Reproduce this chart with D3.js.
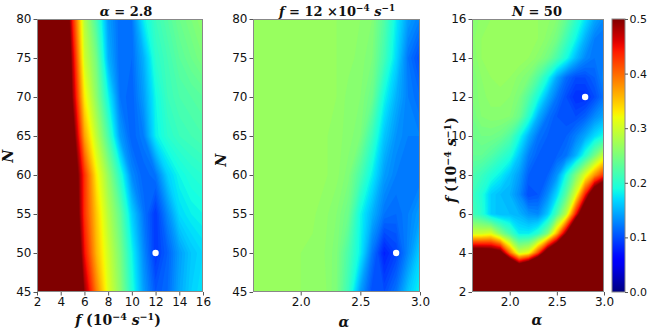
<!DOCTYPE html>
<html><head><meta charset="utf-8">
<script src="https://cdn.jsdelivr.net/npm/d3@7"></script>
<style>body{margin:0;background:#fff}svg{display:block}</style>
</head><body>
<svg id="chart" width="648" height="332"></svg>
<script>
// ---------------- data ----------------
const fSamples = [2,3,4,5,6,7,8,9,10,11,12,13,14,15,16];
const alphaSamples = [1.6,1.7,1.8,1.9,2.0,2.1,2.2,2.3,2.4,2.5,2.6,2.7,2.8,2.9,3.0];
const nSamples = [45,50,55,60,65,70,75,80];

// Panel 1: alpha = 2.8 ; rows = N (45..80), cols = f (2..16)
const errAlpha28 = [
  [.8,.8,.8,.7,.49,.39,.31,.26,.195,.14,.105,.115,.145,.165,.175],
  [.8,.8,.8,.62,.45,.36,.30,.25,.185,.13,.09,.11,.14,.16,.17],
  [.8,.8,.8,.58,.43,.35,.285,.235,.165,.12,.09,.13,.17,.18,.185],
  [.8,.8,.78,.56,.43,.33,.265,.2,.13,.11,.12,.165,.185,.195,.2],
  [.8,.8,.75,.53,.37,.29,.22,.14,.11,.125,.18,.2,.21,.215,.22],
  [.8,.8,.7,.49,.33,.26,.185,.12,.11,.14,.185,.21,.22,.225,.23],
  [.8,.8,.68,.47,.30,.245,.15,.115,.115,.15,.2,.215,.23,.24,.25],
  [.8,.8,.66,.44,.285,.22,.14,.115,.12,.18,.21,.225,.24,.25,.26]
];
// Panel 2: f = 12 ; rows = N (45..80), cols = alpha (1.6..3.0)
const errF12 = [
  [.265,.265,.265,.265,.265,.264,.262,.25,.21,.14,.1,.1,.12,.16,.185],
  [.265,.265,.265,.265,.265,.264,.26,.252,.22,.18,.12,.078,.095,.13,.165],
  [.265,.266,.268,.268,.268,.266,.262,.255,.24,.185,.15,.12,.115,.125,.14],
  [.265,.268,.27,.27,.27,.27,.266,.262,.252,.22,.18,.14,.125,.12,.12],
  [.266,.268,.268,.268,.268,.268,.266,.262,.258,.25,.21,.16,.135,.125,.125],
  [.265,.266,.266,.266,.266,.266,.266,.265,.258,.255,.24,.185,.15,.125,.115],
  [.265,.265,.265,.265,.265,.265,.265,.265,.262,.258,.25,.215,.17,.12,.1],
  [.265,.265,.265,.265,.265,.265,.265,.265,.263,.26,.255,.225,.18,.14,.125]
];
// Panel 3: N = 50 ; rows = f (2..16), cols = alpha (1.6..3.0)
const errN50 = [
  [.9,.9,.9,.9,.9,.9,.9,.9,.9,.9,.9,.9,.9,.9,.9],
  [.8,.8,.8,.8,.76,.66,.74,.82,.9,.9,.9,.9,.9,.9,.9],
  [.56,.56,.55,.53,.4,.3,.32,.42,.56,.65,.8,.85,.9,.9,.9],
  [.3,.3,.31,.26,.22,.18,.18,.2,.25,.36,.5,.7,.8,.85,.85],
  [.215,.2,.165,.155,.155,.15,.135,.13,.16,.22,.29,.44,.6,.7,.75],
  [.21,.195,.165,.155,.15,.13,.1,.105,.13,.17,.23,.31,.44,.58,.65],
  [.22,.21,.195,.18,.16,.14,.11,.105,.11,.135,.19,.25,.31,.375,.43],
  [.235,.235,.225,.21,.195,.16,.125,.11,.105,.11,.12,.15,.195,.245,.3],
  [.24,.245,.245,.24,.225,.19,.15,.12,.11,.105,.11,.125,.145,.17,.19],
  [.245,.255,.258,.258,.255,.24,.2,.15,.12,.105,.1,.1,.11,.13,.145],
  [.25,.258,.262,.262,.26,.25,.225,.19,.15,.12,.1,.085,.085,.1,.12],
  [.25,.26,.265,.268,.265,.258,.25,.225,.19,.145,.115,.1,.1,.11,.13],
  [.255,.265,.27,.27,.27,.27,.265,.258,.245,.22,.19,.155,.13,.12,.125],
  [.258,.265,.268,.268,.268,.268,.268,.265,.258,.245,.215,.185,.15,.125,.12],
  [.255,.262,.265,.265,.265,.265,.265,.265,.262,.255,.235,.205,.175,.145,.13]
];
// optimum markers
const optAlpha28 = [{x:12, y:50}];
const optF12 = [{x:2.8, y:50}];
const optN50 = [{x:2.8, y:12}];

const ticksF = [2,4,6,8,10,12,14,16];
const ticksN = [45,50,55,60,65,70,75,80];
const ticksAlpha = [2.0,2.5,3.0];
const ticksCbar = [0.0,0.1,0.2,0.3,0.4,0.5];

// ---------------- colormap (matplotlib jet) ----------------
const jetR = d3.scaleLinear().domain([0,0.35,0.66,0.89,1]).range([0,0,1,1,0.5]).clamp(true);
const jetG = d3.scaleLinear().domain([0,0.125,0.375,0.64,0.91,1]).range([0,0,1,1,0,0]).clamp(true);
const jetB = d3.scaleLinear().domain([0,0.11,0.34,0.65,1]).range([0.5,1,1,0,0]).clamp(true);
const vmax = 0.5;
function jet(v){ const t = Math.max(0, Math.min(1, v/vmax));
  return d3.rgb(255*jetR(t), 255*jetG(t), 255*jetB(t)).formatHex(); }

const svg = d3.select('#chart');
const plotTop = 19, plotBottom = 292;
const levels = d3.range(0, 101).map(i => i*0.005);
const step = 0.005;

const sans = "'DejaVu Sans', sans-serif";
const serif = "'DejaVu Serif', 'Liberation Serif', serif";

function drawPanel(p, idx){
  const x = d3.scaleLinear().domain(p.xDomain).range([p.left, p.right]);
  const y = d3.scaleLinear().domain(p.yDomain).range([plotBottom, plotTop]);
  const nx = p.xs.length, ny = p.ys.length;
  const dx = p.xs[1]-p.xs[0], dy = p.ys[1]-p.ys[0];
  const proj = d3.geoTransform({point(px, py){
    this.stream.point(x(p.xs[0] + (px-0.5)*dx), y(p.ys[0] + (py-0.5)*dy)); }});
  const path = d3.geoPath(proj);
  const contours = d3.contours().size([nx, ny]).thresholds(levels)(p.grid.flat());

  svg.append('clipPath').attr('id','clip'+idx).append('rect')
    .attr('x', p.left).attr('y', plotTop).attr('width', p.right-p.left).attr('height', plotBottom-plotTop);
  const g = svg.append('g').attr('clip-path', `url(#clip${idx})`);
  g.selectAll('path').data(contours).join('path')
    .attr('d', path)
    .attr('fill', d => d.value >= vmax - 1e-9 ? jet(vmax) : jet(d.value + step/2));

  svg.selectAll(null).data(p.opt).join('circle')
    .attr('cx', d => x(d.x)).attr('cy', d => y(d.y)).attr('r', 3.2).attr('fill', '#fff');

  svg.append('rect').attr('x', p.left+0.5).attr('y', plotTop+0.5)
    .attr('width', p.right-p.left-1).attr('height', plotBottom-plotTop-1)
    .attr('fill','none').attr('stroke','#888').attr('stroke-width',1);

  const xa = svg.append('g').attr('transform', `translate(0,${plotBottom})`)
    .call(d3.axisBottom(x).tickValues(p.xTicks).tickFormat(p.xFmt).tickSize(3.5).tickPadding(2));
  const ya = svg.append('g').attr('transform', `translate(${p.left},0)`)
    .call(d3.axisLeft(y).tickValues(p.yTicks).tickFormat(p.yFmt).tickSize(3.5).tickPadding(2));
  [xa, ya].forEach(a => {
    a.select('.domain').remove();
    a.selectAll('line').attr('stroke','#555');
    a.selectAll('text').attr('font-family', sans).attr('font-size', 12).attr('fill','#111');
  });
  return {x, y};
}

const fmt0 = d3.format('d'), fmt1 = d3.format('.1f');
drawPanel({left:37, right:203, xDomain:[2,16], yDomain:[45,80], xs:fSamples, ys:nSamples,
  grid:errAlpha28, opt:optAlpha28, xTicks:ticksF, yTicks:ticksN, xFmt:fmt0, yFmt:fmt0}, 0);
drawPanel({left:253, right:420, xDomain:[1.6,3.0], yDomain:[45,80], xs:alphaSamples, ys:nSamples,
  grid:errF12, opt:optF12, xTicks:ticksAlpha, yTicks:ticksN, xFmt:fmt1, yFmt:fmt0}, 1);
drawPanel({left:472, right:604, xDomain:[1.6,3.0], yDomain:[2,16], xs:alphaSamples, ys:fSamples,
  grid:errN50, opt:optN50, xTicks:ticksAlpha, yTicks:ticksF, xFmt:fmt1, yFmt:fmt0}, 2);

// ---------------- colorbar ----------------
const cbL = 612, cbR = 625;
const cy = d3.scaleLinear().domain([0, vmax]).range([plotBottom, plotTop]);
const grad = svg.append('defs').append('linearGradient').attr('id','cbgrad')
  .attr('x1',0).attr('y1',1).attr('x2',0).attr('y2',0);
grad.selectAll('stop').data(d3.range(0, 51)).join('stop')
  .attr('offset', d => d/50).attr('stop-color', d => jet(d/50*vmax));
svg.append('rect').attr('x', cbL).attr('y', plotTop).attr('width', cbR-cbL).attr('height', plotBottom-plotTop)
  .attr('fill','url(#cbgrad)').attr('stroke','#888').attr('stroke-width',1);
const ca = svg.append('g').attr('transform', `translate(${cbR},0)`)
  .call(d3.axisRight(cy).tickValues(ticksCbar).tickFormat(fmt1).tickSize(3).tickPadding(1.5));
ca.select('.domain').remove();
ca.selectAll('line').attr('stroke','#555');
ca.selectAll('text').attr('font-family', sans).attr('font-size', 11).attr('fill','#111');

// ---------------- titles and labels ----------------
function mathText(parent, parts, attrs){
  const t = parent.append('text').attr('font-family', serif).attr('font-weight','bold').attr('fill','#111');
  Object.entries(attrs).forEach(([k,v]) => t.attr(k, v));
  parts.forEach(pt => {
    const s = t.append('tspan').text(pt.t);
    if (pt.it) s.attr('font-style','italic');
    if (pt.sup) s.attr('dy', pt.sup);
    if (pt.small) s.attr('font-size', '0.68em');
  });
  return t;
}
const tAttrs = {'text-anchor':'middle', 'font-size':13};
mathText(svg, [{t:'α',it:1},{t:' = 2.8'}], Object.assign({x:126, y:16}, tAttrs));
mathText(svg, [{t:'f',it:1},{t:' = 12  ×10'},{t:'−4',sup:-5,small:1},{t:' ',sup:5},{t:'s',it:1},{t:'−1',sup:-5,small:1}],
  Object.assign({x:337, y:16}, tAttrs));
mathText(svg, [{t:'N',it:1},{t:' = 50'}], Object.assign({x:537, y:16}, tAttrs));

const lAttrs = {'text-anchor':'middle', 'font-size':14};
const fLabel = [{t:'f',it:1},{t:' ('},{t:'10'},{t:'−4',sup:-5,small:1},{t:' ',sup:5},{t:'s',it:1},{t:'−1',sup:-5,small:1},{t:')',sup:5}];
mathText(svg, fLabel, Object.assign({x:118, y:325}, lAttrs));
mathText(svg, [{t:'α',it:1}], Object.assign({x:344, y:327}, lAttrs));
mathText(svg, [{t:'α',it:1}], Object.assign({x:537, y:325}, lAttrs));
mathText(svg, [{t:'N',it:1}], Object.assign({transform:'translate(13,156) rotate(-90)'}, lAttrs));
mathText(svg, [{t:'N',it:1}], Object.assign({transform:'translate(226,160) rotate(-90)'}, lAttrs));
mathText(svg, fLabel, Object.assign({transform:'translate(456,160) rotate(-90)'}, lAttrs));
</script>
</body></html>
